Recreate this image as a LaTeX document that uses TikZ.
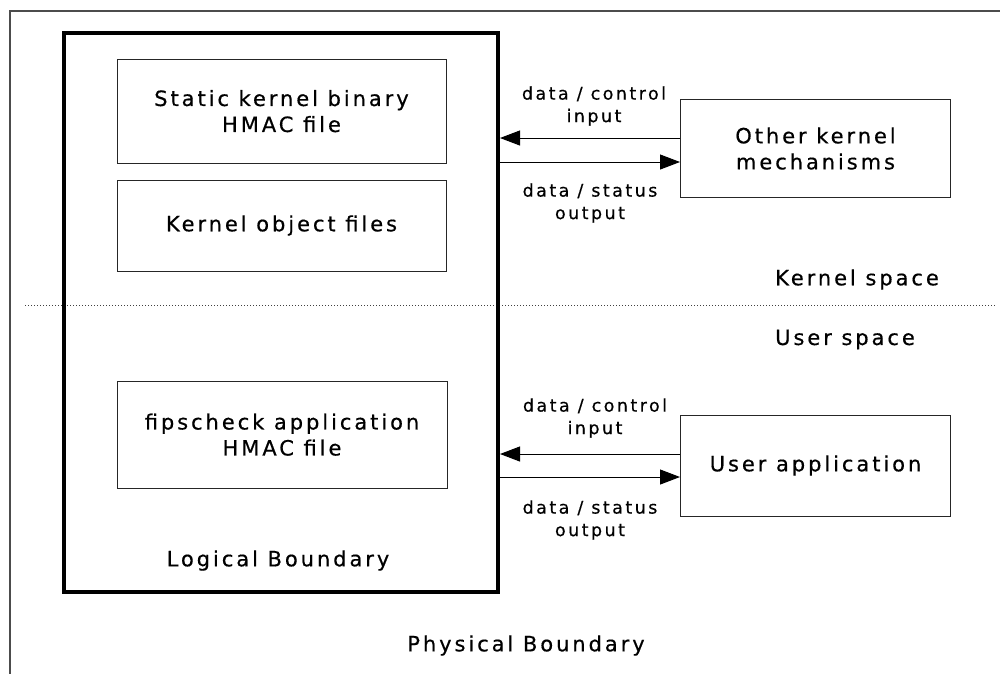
\documentclass[tikz,border=0pt]{standalone}
\usepackage{fontspec}
\setmainfont{DejaVu Sans}[LetterSpace=14, FakeBold=0.5]
\usetikzlibrary{arrows.meta}
\newcommand\mybig{\fontsize{21}{26}\selectfont}
\newcommand\mysmall{\fontsize{17.5}{22.5}\selectfont}
\begin{document}
\begin{tikzpicture}[x=1pt,y=-1pt,
  box/.style={draw=black!85, line width=1pt, align=center, inner sep=0pt, font=\mybig},
  lbl/.style={align=center, inner sep=0pt, font=\mysmall},
  big/.style={align=center, inner sep=0pt, font=\mybig},
  arr/.style={-{Triangle[length=20pt,width=15pt]}, line width=1pt}]
\useasboundingbox (0,0) rectangle (1000,673);
\clip (0,0) rectangle (1000,673);
\fill[white] (0,0) rectangle (1000,673);
% physical boundary (extends beyond the picture)
\node[draw=black!70, line width=1.5pt, minimum width=1010pt, minimum height=689pt, inner sep=0pt] (phys) at (515,355.5) {};
% kernel / user separator
\draw[black!75, dotted, line width=1pt] (25,305) -- (995,305);
% logical boundary
\node[draw, line width=4pt, minimum width=434pt, minimum height=559pt, inner sep=0pt] (logical) at (281,312) {};
% inner boxes
\node[box, minimum width=329pt, minimum height=104pt, text depth=0pt] (b1) at (281.5,111) {Static kernel binary\\HMAC file};
\node[box, minimum width=329pt, minimum height=91pt] (b2) at (281.5,225.5) {Kernel object files};
\node[box, minimum width=330pt, minimum height=107pt, text depth=0pt] (b3) at (282,434.5) {fipscheck application\\HMAC file};
% external boxes
\node[box, minimum width=270pt, minimum height=98.5pt] (oth) at (815.5,148.5) {Other kernel\\mechanisms};
\node[box, minimum width=270pt, minimum height=101pt] (usr) at (815.5,465.5) {User application};
% connectors
\draw[arr] (oth.west |- 0,138) -- (logical.east |- 0,138);
\draw[arr] (logical.east |- 0,162) -- (oth.west |- 0,162);
\draw[arr] (usr.west |- 0,454) -- (logical.east |- 0,454);
\draw[arr] (logical.east |- 0,477) -- (usr.west |- 0,477);
% labels
\node[lbl] (in1) at (594,106) {data / control\\input};
\node[lbl] (out1) at (590,203) {data / status\\output};
\node[lbl] (in2) at (595,418) {data / control\\input};
\node[lbl] (out2) at (590,520) {data / status\\output};
\node[big] (ks) at (857,279.5) {Kernel space};
\node[big] (us) at (845,339.5) {User space};
\node[big] (lb) at (278,560.5) {Logical Boundary};
\node[big] (pb) at (526,645.5) {Physical Boundary};
\end{tikzpicture}
\end{document}
